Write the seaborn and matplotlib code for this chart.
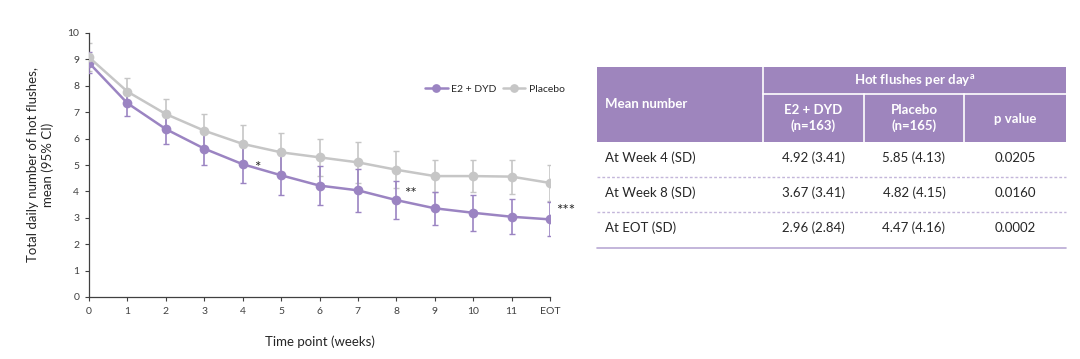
import matplotlib.pyplot as plt
import seaborn as sns
import pandas as pd
from matplotlib.patches import Rectangle

# chart data
weeks = list(range(13))
week_labels = ['0', '1', '2', '3', '4', '5', '6', '7', '8', '9', '10', '11', 'EOT']
e2_mean = [8.87, 7.34, 6.36, 5.62, 5.03, 4.61, 4.22, 4.04, 3.67, 3.36, 3.19, 3.04, 2.94]
e2_ci = [0.40, 0.48, 0.56, 0.63, 0.72, 0.76, 0.75, 0.82, 0.73, 0.63, 0.68, 0.67, 0.64]
pbo_mean = [9.08, 7.78, 6.93, 6.30, 5.80, 5.48, 5.29, 5.10, 4.82, 4.58, 4.58, 4.56, 4.32]
pbo_ci = [0.53, 0.50, 0.58, 0.62, 0.70, 0.74, 0.69, 0.77, 0.70, 0.62, 0.62, 0.64, 0.67]
series_names = ['E2 + DYD', 'Placebo']

# significance markers
sig_x = [4.3, 8.2, 12.15]
sig_y = [5.1, 4.1, 3.45]
sig_labels = ['*', '**', '***']

# table data
row_labels = ['At Week 4 (SD)', 'At Week 8 (SD)', 'At EOT (SD)']
col_e2 = ['4.92 (3.41)', '3.67 (3.41)', '2.96 (2.84)']
col_pbo = ['5.85 (4.13)', '4.82 (4.15)', '4.47 (4.16)']
col_p = ['0.0205', '0.0160', '0.0002']

PURPLE = '#9b84c2'
GREY = '#c6c6c6'
HEAD = '#9e85bd'
TXT = '#262626'

sns.set_style('white')
plt.rcParams['font.family'] = ['Lato', 'DejaVu Sans']

df = pd.DataFrame({
    'week': weeks * 2,
    'mean': e2_mean + pbo_mean,
    'group': [series_names[0]] * 13 + [series_names[1]] * 13,
})

fig = plt.figure(figsize=(10.8, 3.59), dpi=100)
ax = fig.add_axes([89 / 1080, 1 - 297 / 359, (550 - 89) / 1080, (297 - 33) / 359])

ax.errorbar(weeks, pbo_mean, yerr=pbo_ci, fmt='none', ecolor=GREY, elinewidth=1.2, capsize=2.5, zorder=2)
ax.errorbar(weeks, e2_mean, yerr=e2_ci, fmt='none', ecolor=PURPLE, elinewidth=1.2, capsize=2.5, zorder=3)
sns.lineplot(data=df, x='week', y='mean', hue='group', palette=[PURPLE, GREY], hue_order=series_names,
             marker='o', markersize=7, markeredgewidth=0, linewidth=1.8, ax=ax, zorder=4)

for x, y, s in zip(sig_x, sig_y, sig_labels):
    ax.text(x, y - 0.2, s, fontsize=11, color=TXT, ha='left', va='center')

ax.set_xlim(0, 12)
ax.set_ylim(0, 10)
ax.set_xticks(weeks)
ax.set_xticklabels(week_labels)
ax.set_yticks(range(11))
ax.tick_params(axis='both', labelsize=7.5, colors='#404040', length=3, width=0.8, direction='out',
               left=True, bottom=True, pad=4)
for sp in ['top', 'right']:
    ax.spines[sp].set_visible(False)
for sp in ['left', 'bottom']:
    ax.spines[sp].set_color('#404040')
    ax.spines[sp].set_linewidth(0.9)
ax.set_xlabel('Time point (weeks)', fontsize=9.5, color=TXT, labelpad=14)
ax.set_ylabel('Total daily number of hot flushes,\nmean (95% CI)', fontsize=9.5, color=TXT, labelpad=10)
ax.legend(loc='center', bbox_to_anchor=(0.88, 0.788), ncol=2, frameon=False, fontsize=7.5,
          handlelength=2.2, columnspacing=0.6, handletextpad=0.3, markerscale=0.9)

# table drawn in pixel coordinates
tab = fig.add_axes([0, 0, 1, 1], zorder=-1)
tab.set_xlim(0, 1080)
tab.set_ylim(359, 0)
tab.axis('off')

x0, x1, x2, x3, x4 = 597, 763, 864, 964, 1066
y0, y1, y2 = 67, 94, 142
tab.add_patch(Rectangle((x0, y0), x4 - x0, y2 - y0, facecolor=HEAD, edgecolor='none'))
tab.plot([x1, x1], [y0, y2], color='white', lw=1.2)
tab.plot([x2, x2], [y1, y2], color='white', lw=1.2)
tab.plot([x3, x3], [y1, y2], color='white', lw=1.2)
tab.plot([x1, x4], [y1, y1], color='white', lw=1.2)

hkw = dict(color='white', fontsize=9.5, fontweight='bold', va='center')
tab.text(605, 104, 'Mean number', ha='left', **hkw)
tab.text((x1 + x4) / 2, 80, 'Hot flushes per day$^\\mathregular{a}$', ha='center', **hkw)
tab.text((x1 + x2) / 2, 118, 'E2 + DYD\n(n=163)', ha='center', linespacing=1.25, **hkw)
tab.text((x2 + x3) / 2, 118, 'Placebo\n(n=165)', ha='center', linespacing=1.25, **hkw)
tab.text((x3 + x4) / 2, 119, 'p value', ha='center', **hkw)

row_y = [158, 193, 228]
for i, ry in enumerate(row_y):
    tab.text(605, ry, row_labels[i], ha='left', va='center', fontsize=9.5, color=TXT)
    tab.text((x1 + x2) / 2, ry, col_e2[i], ha='center', va='center', fontsize=9.5, color=TXT)
    tab.text((x2 + x3) / 2, ry, col_pbo[i], ha='center', va='center', fontsize=9.5, color=TXT)
    tab.text((x3 + x4) / 2, ry, col_p[i], ha='center', va='center', fontsize=9.5, color=TXT)
for ly in [177, 212]:
    tab.plot([x0, x4], [ly, ly], color='#c3b6da', lw=1, ls=(0, (2, 1.5)))
tab.plot([x0, x4], [248, 248], color='#b9a9d4', lw=1.2)

fig.savefig('out.png', dpi=100)
